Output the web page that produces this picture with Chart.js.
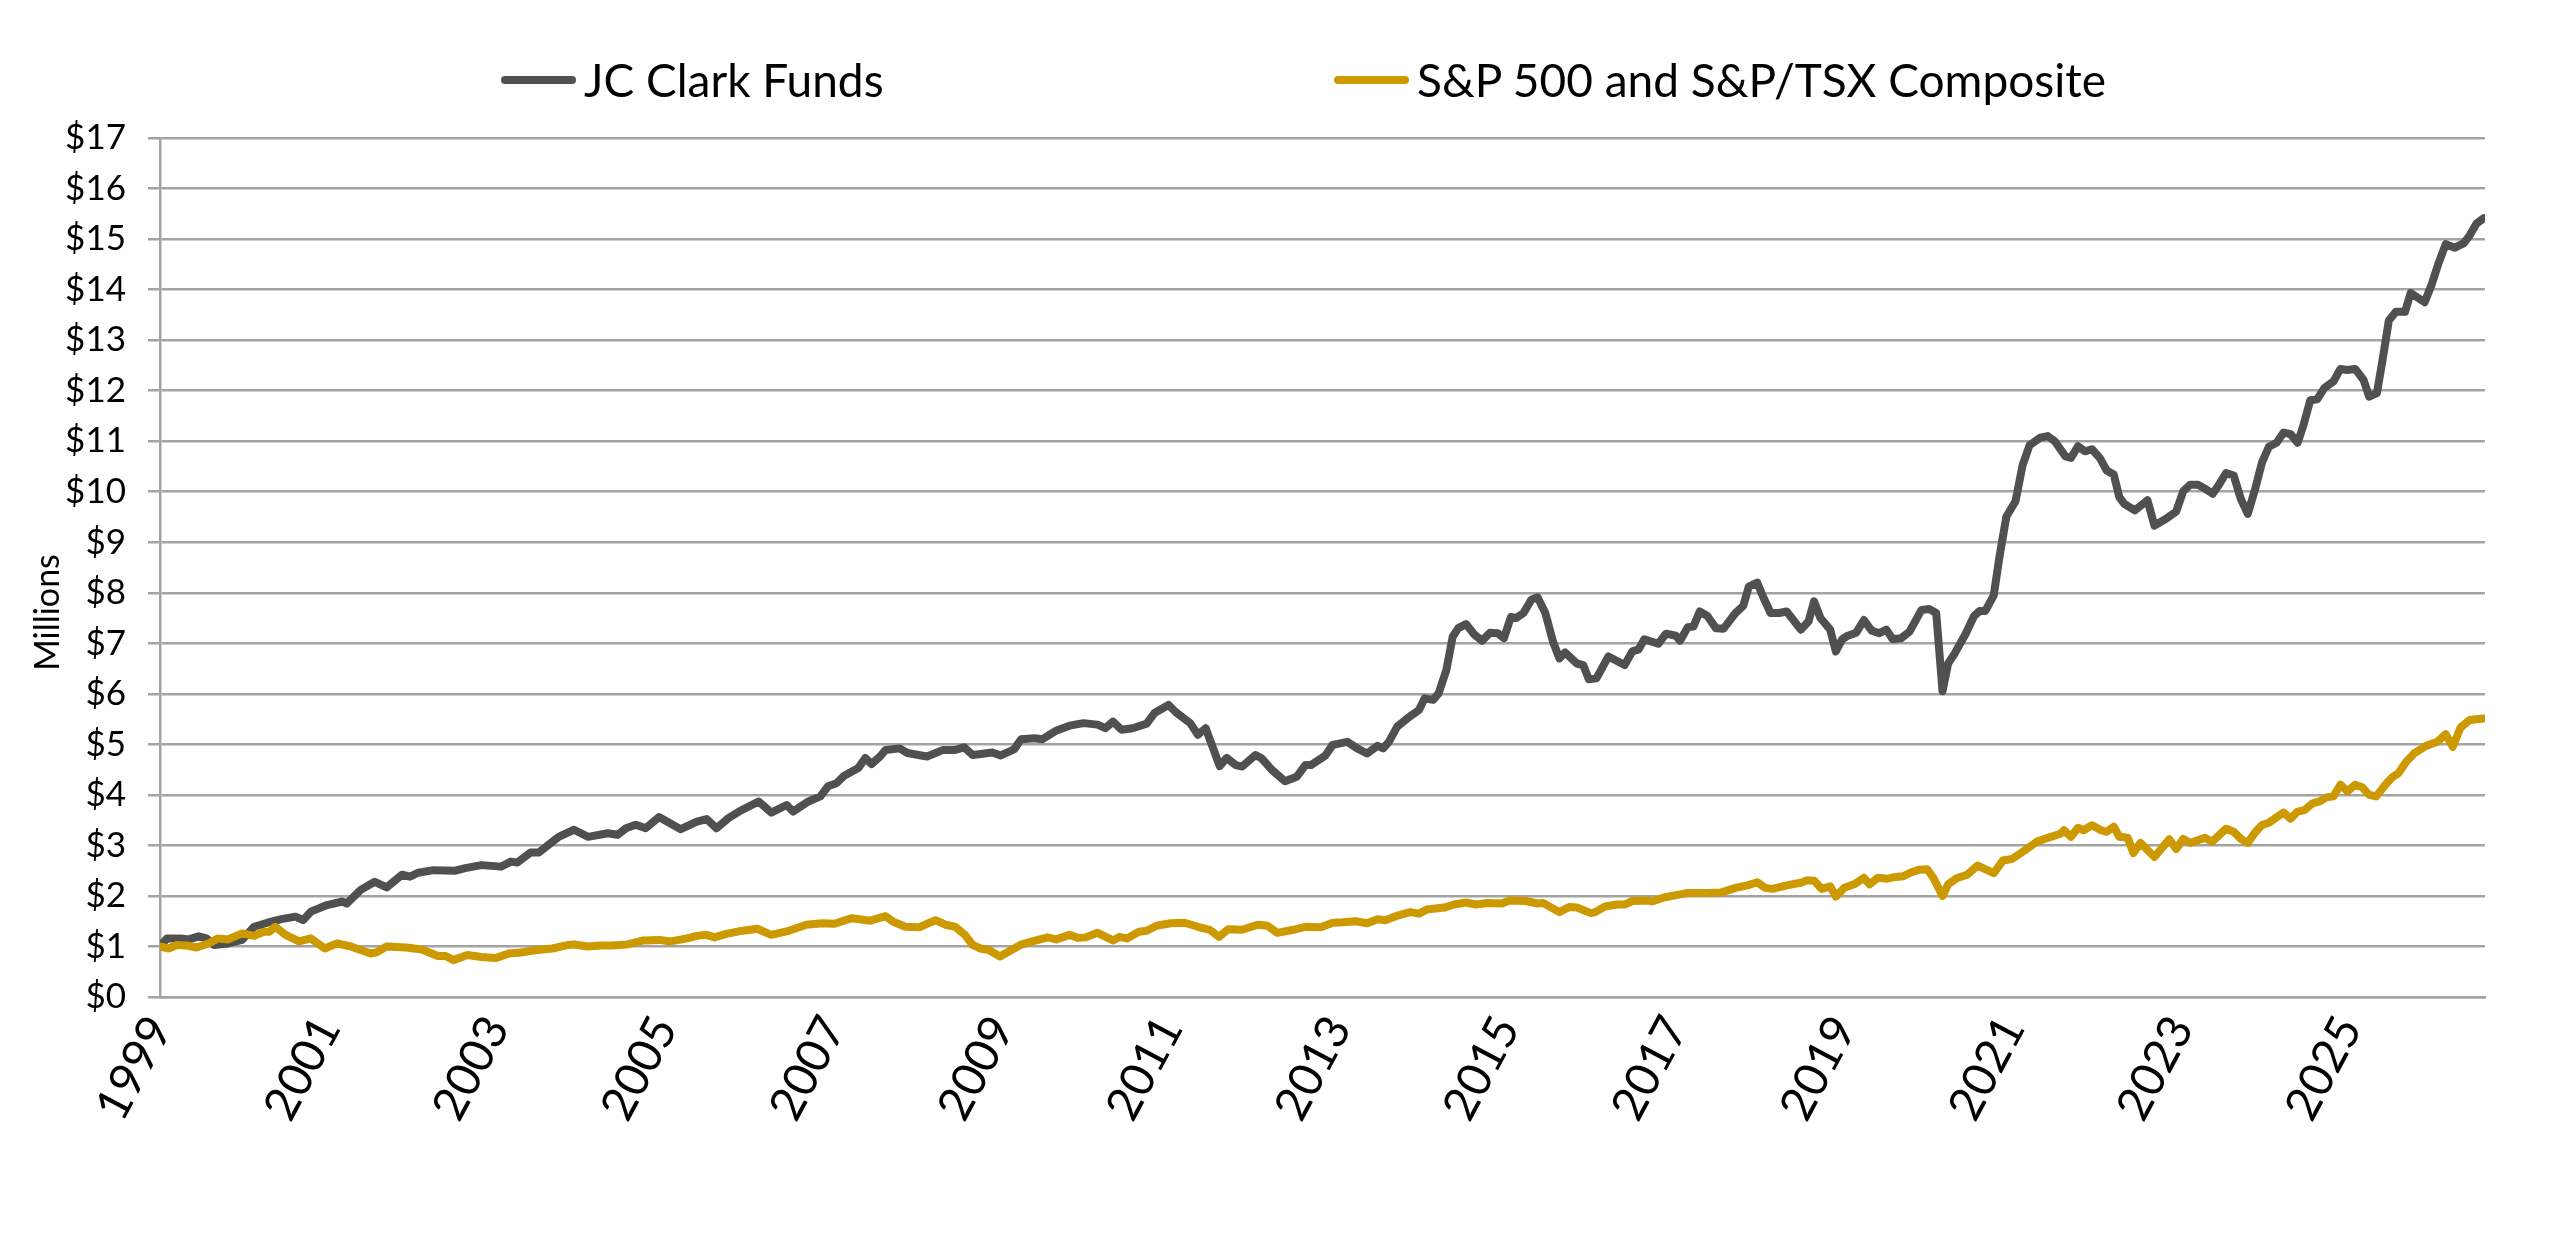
<!DOCTYPE html>
<html>
<head>
<meta charset="utf-8">
<title>JC Clark Funds vs S&amp;P 500 and S&amp;P/TSX Composite</title>
<script src="https://cdn.jsdelivr.net/npm/chart.js@4.4.1/dist/chart.umd.min.js"></script>
<style>
  html, body { margin: 0; padding: 0; background: #fff; }
  #wrap { position: relative; width: 2560px; height: 1234px; }
  #legend { position: absolute; top: 0; left: 0; width: 2560px; height: 130px;
            font-family: Lato, sans-serif; font-size: 46px; color: #000; }
  .item { position: absolute; top: 52px; display: flex; align-items: center; white-space: nowrap; line-height: 1.2; }
  .item-0 { left: 501px; }
  .item-1 { left: 1334px; }
  .swatch { width: 75px; height: 8px; border-radius: 4px; margin-right: 8px; }
</style>
</head>
<body>
<div id="wrap">
  <canvas id="chart" width="2560" height="1234"></canvas>
  <div id="legend"></div>
</div>
<script>
// Tick labels every 24 months starting Jan 1999
const tickLabels = ['1999', '2001', '2003', '2005', '2007', '2009', '2011', '2013',
                    '2015', '2017', '2019', '2021', '2023', '2025'];

// JC Clark Funds, value in $ millions, read at month positions (months after Jan 1999)
const fundMonths = [0, 1.0, 2.9, 4.1, 5.5, 6.6, 7.7, 9.7, 11.7, 13.4, 15.3, 17.3, 19.3, 20.4, 21.5, 23.8,
  26.0, 26.6, 28.6, 30.6, 32.3, 34.5, 35.6, 36.8, 39.0, 42.1, 43.5, 45.8, 48.6, 50.0, 50.9, 52.8,
  54.0, 56.8, 59.0, 61.0, 63.8, 65.2, 66.4, 67.8, 69.2, 71.1, 74.2, 76.5, 77.9, 79.3, 81.0, 82.5,
  85.3, 87.1, 89.3, 90.2, 92.4, 94.1, 95.2, 96.4, 97.5, 99.5, 100.5, 101.4, 102.6, 103.4, 105.4, 106.5,
  109.3, 111.6, 113.3, 114.6, 115.8, 118.6, 119.8, 121.7, 122.7, 124.6, 125.7, 127.7, 129.6, 131.6, 133.6, 134.7,
  135.8, 137.0, 138.6, 140.6, 141.7, 143.7, 144.8, 146.8, 147.9, 149.0, 151.0, 152.0, 153.3, 154.2, 156.1, 157.0,
  158.4, 160.3, 162.0, 163.2, 164.0, 166.0, 167.1, 169.2, 170.6, 172.0, 173.5, 174.3, 175.1, 176.3, 177.7, 179.4,
  180.2, 181.4, 182.2, 183.3, 184.2, 185.0, 186.1, 187.3, 188.4, 189.5, 190.6, 191.5, 192.5, 193.2, 194.3, 195.4,
  196.3, 197.4, 198.5, 199.4, 200.2, 201.9, 202.8, 203.6, 204.7, 206.4, 208.7, 209.8, 210.7, 211.5, 213.5, 214.6,
  216.0, 216.6, 217.7, 218.5, 219.4, 220.5, 221.7, 222.8, 224.5, 225.6, 226.4, 227.6, 228.4, 229.5, 230.7, 231.8,
  233.8, 234.9, 235.7, 236.6, 238.0, 238.8, 239.7, 240.5, 241.7, 242.8, 243.9, 245.0, 246.0, 246.9, 248.1, 249.3,
  251.0, 252.1, 253.1, 254.0, 254.8, 255.7, 257.3, 258.5, 259.3, 260.1, 261.3, 262.1, 263.1, 264.4, 265.4, 266.4,
  267.9, 269.0, 270.0, 271.5, 272.3, 273.3, 274.3, 275.3, 276.4, 277.4, 278.4, 279.2, 279.9, 281.4, 283.2, 284.2,
  285.8, 287.3, 288.3, 289.3, 290.4, 291.4, 292.5, 293.4, 294.4, 295.5, 296.5, 297.5, 298.5, 299.5, 300.5, 301.6,
  302.6, 303.6, 304.6, 305.4, 306.4, 307.4, 308.4, 309.7, 310.7, 311.7, 312.8, 314.0, 314.8, 315.9, 316.8, 317.6,
  318.6, 319.9, 320.7, 322.7, 323.7, 324.7, 325.7, 327.0, 328.3, 329.1, 330.1, 331.1];
const fundValues = [1.00, 1.16, 1.16, 1.14, 1.20, 1.16, 1.03, 1.06, 1.13, 1.39, 1.47, 1.54, 1.59, 1.52, 1.69, 1.82,
  1.89, 1.85, 2.12, 2.28, 2.17, 2.42, 2.38, 2.46, 2.51, 2.50, 2.55, 2.61, 2.58, 2.68, 2.66, 2.86,
  2.86, 3.17, 3.31, 3.17, 3.24, 3.21, 3.34, 3.41, 3.34, 3.56, 3.32, 3.47, 3.52, 3.34, 3.54, 3.67,
  3.87, 3.65, 3.80, 3.67, 3.87, 3.97, 4.17, 4.23, 4.38, 4.53, 4.73, 4.61, 4.76, 4.89, 4.92, 4.83,
  4.76, 4.89, 4.89, 4.94, 4.79, 4.84, 4.78, 4.90, 5.10, 5.12, 5.10, 5.27, 5.37, 5.42, 5.39, 5.32,
  5.45, 5.29, 5.32, 5.41, 5.62, 5.78, 5.63, 5.42, 5.19, 5.32, 4.57, 4.73, 4.59, 4.56, 4.79, 4.72,
  4.50, 4.27, 4.36, 4.59, 4.59, 4.77, 4.99, 5.05, 4.92, 4.82, 4.97, 4.92, 5.05, 5.35, 5.51, 5.68,
  5.91, 5.88, 6.01, 6.47, 7.13, 7.30, 7.38, 7.17, 7.05, 7.21, 7.20, 7.10, 7.52, 7.50, 7.60, 7.86,
  7.91, 7.60, 7.03, 6.70, 6.82, 6.60, 6.57, 6.29, 6.31, 6.74, 6.57, 6.84, 6.88, 7.08, 6.99, 7.19,
  7.15, 7.05, 7.32, 7.33, 7.63, 7.54, 7.30, 7.29, 7.60, 7.74, 8.12, 8.20, 7.93, 7.60, 7.60, 7.63,
  7.27, 7.43, 7.83, 7.50, 7.27, 6.84, 7.08, 7.15, 7.21, 7.46, 7.25, 7.20, 7.27, 7.08, 7.10, 7.23,
  7.66, 7.68, 7.60, 6.05, 6.60, 6.79, 7.19, 7.54, 7.64, 7.64, 7.95, 8.70, 9.51, 9.81, 10.52, 10.92,
  11.07, 11.10, 11.00, 10.70, 10.67, 10.90, 10.80, 10.84, 10.67, 10.42, 10.34, 9.89, 9.76, 9.63, 9.83, 9.33,
  9.46, 9.61, 10.01, 10.14, 10.14, 10.06, 9.96, 10.14, 10.37, 10.32, 9.86, 9.56, 10.03, 10.57, 10.89, 10.97,
  11.17, 11.14, 10.97, 11.30, 11.81, 11.83, 12.05, 12.18, 12.43, 12.41, 12.43, 12.21, 11.88, 11.95, 12.69, 13.39,
  13.56, 13.56, 13.93, 13.75, 14.10, 14.53, 14.90, 14.83, 14.92, 15.07, 15.31, 15.41];

// S&P 500 and S&P/TSX Composite, value in $ millions
const indexMonths = [0, 1.2, 2.4, 3.8, 5.2, 6.9, 8.3, 9.7, 11.7, 13.4, 14.8, 15.6, 16.4, 17.9, 19.8, 21.5,
  23.5, 25.2, 27.2, 30.0, 30.8, 32.3, 35.1, 37.3, 39.6, 40.7, 41.8, 43.8, 45.8, 47.8, 49.7, 51.4,
  53.7, 55.9, 58.2, 59.0, 61.0, 62.7, 64.4, 66.6, 68.9, 71.1, 72.8, 75.1, 76.5, 77.9, 79.0, 80.7,
  82.5, 85.1, 87.1, 89.6, 92.1, 94.4, 96.1, 98.6, 101.2, 103.4, 104.5, 106.2, 108.2, 110.5, 111.9, 113.3,
  114.7, 115.8, 116.9, 118.1, 119.7, 121.2, 122.6, 124.3, 126.5, 127.7, 129.6, 130.8, 131.9, 133.6, 135.8, 136.7,
  137.8, 139.5, 140.6, 142.0, 144.0, 146.0, 147.9, 149.6, 150.9, 152.2, 154.2, 156.4, 157.8, 159.2, 161.5, 163.2,
  165.4, 167.1, 168.6, 170.4, 172.0, 173.5, 174.6, 176.3, 178.2, 179.4, 180.5, 183.0, 184.4, 186.1, 187.5, 189.2,
  191.2, 192.3, 194.6, 196.3, 197.1, 199.4, 200.8, 201.9, 203.9, 204.5, 205.9, 207.6, 208.7, 209.8, 212.1, 212.6,
  214.3, 216.6, 217.7, 220.5, 222.5, 224.5, 226.2, 227.6, 228.7, 229.8, 231.8, 233.8, 234.6, 235.7, 236.8, 238.0,
  238.8, 240.0, 241.4, 242.8, 243.6, 244.8, 246.2, 247.0, 248.4, 249.6, 250.7, 251.8, 252.7, 254.0, 254.8, 256.0,
  257.5, 259.0, 261.3, 262.6, 263.9, 265.7, 267.4, 269.0, 270.8, 271.3, 272.3, 273.3, 274.1, 275.3, 276.6, 277.4,
  278.4, 279.2, 280.4, 281.2, 282.2, 284.2, 286.3, 287.3, 288.3, 289.3, 291.4, 292.4, 294.4, 295.5, 296.5, 297.5,
  298.5, 299.5, 300.5, 302.6, 303.6, 304.6, 305.6, 306.7, 307.7, 308.7, 309.7, 310.7, 311.7, 312.8, 313.8, 314.8,
  315.8, 317.1, 318.1, 318.9, 320.1, 321.2, 322.9, 324.5, 325.7, 326.7, 327.8, 329.1, 331.1];
const indexValues = [1.00, 0.96, 1.03, 1.02, 0.98, 1.06, 1.16, 1.14, 1.26, 1.21, 1.29, 1.29, 1.39, 1.23, 1.10, 1.16,
  0.96, 1.06, 1.00, 0.86, 0.88, 1.00, 0.98, 0.94, 0.81, 0.81, 0.73, 0.83, 0.79, 0.77, 0.86, 0.88,
  0.93, 0.96, 1.03, 1.04, 1.00, 1.02, 1.02, 1.04, 1.12, 1.13, 1.10, 1.16, 1.21, 1.23, 1.18, 1.25,
  1.30, 1.35, 1.23, 1.31, 1.43, 1.46, 1.45, 1.56, 1.51, 1.60, 1.49, 1.39, 1.38, 1.52, 1.43, 1.39,
  1.23, 1.03, 0.96, 0.93, 0.80, 0.92, 1.03, 1.10, 1.18, 1.14, 1.23, 1.17, 1.18, 1.27, 1.12, 1.19,
  1.16, 1.29, 1.31, 1.41, 1.46, 1.47, 1.39, 1.33, 1.19, 1.34, 1.33, 1.43, 1.41, 1.27, 1.33, 1.39,
  1.38, 1.47, 1.48, 1.50, 1.46, 1.54, 1.52, 1.61, 1.68, 1.65, 1.73, 1.77, 1.83, 1.87, 1.83, 1.86,
  1.85, 1.91, 1.90, 1.85, 1.86, 1.68, 1.78, 1.77, 1.66, 1.68, 1.79, 1.83, 1.83, 1.90, 1.91, 1.89,
  1.97, 2.03, 2.06, 2.06, 2.07, 2.16, 2.21, 2.27, 2.16, 2.14, 2.21, 2.26, 2.31, 2.30, 2.14, 2.19,
  1.99, 2.16, 2.23, 2.36, 2.23, 2.36, 2.34, 2.37, 2.39, 2.47, 2.52, 2.53, 2.36, 2.00, 2.23, 2.35,
  2.42, 2.60, 2.45, 2.70, 2.73, 2.90, 3.07, 3.15, 3.23, 3.30, 3.17, 3.35, 3.30, 3.40, 3.30, 3.27,
  3.37, 3.17, 3.15, 2.85, 3.05, 2.77, 3.12, 2.93, 3.13, 3.05, 3.15, 3.07, 3.33, 3.27, 3.13, 3.05,
  3.25, 3.40, 3.45, 3.65, 3.53, 3.67, 3.70, 3.83, 3.87, 3.95, 3.97, 4.20, 4.07, 4.20, 4.15, 4.00,
  3.97, 4.20, 4.35, 4.42, 4.66, 4.82, 4.97, 5.05, 5.20, 4.95, 5.33, 5.48, 5.51];

const seriesNames = ['JC Clark Funds', 'S&P 500 and S&P/TSX Composite'];
const seriesColors = ['#505050', '#CC9900'];

const gridColor = '#a3a3a3';

function toPoints(xs, ys) {
  return xs.map(function(x, i) { return { x: x, y: ys[i] }; });
}

// Draws the rotated "Millions" axis title a bit below the axis middle, as in the original
const axisTitle = {
  id: 'axisTitle',
  afterDraw: function(chart) {
    const ctx = chart.ctx;
    const area = chart.chartArea;
    ctx.save();
    ctx.font = '34px Lato';
    ctx.fillStyle = '#000';
    ctx.textAlign = 'center';
    ctx.textBaseline = 'middle';
    ctx.translate(48, (area.top + area.bottom) / 2 + 45);
    ctx.rotate(-Math.PI / 2);
    ctx.fillText('Millions', 0, 0);
    ctx.restore();
  }
};

const chart = new Chart(document.getElementById('chart'), {
  type: 'line',
  data: {
    datasets: [
      {
        label: seriesNames[0],
        data: toPoints(fundMonths, fundValues),
        borderColor: seriesColors[0],
        backgroundColor: seriesColors[0],
        borderWidth: 8,
        order: 1
      },
      {
        label: seriesNames[1],
        data: toPoints(indexMonths, indexValues),
        borderColor: seriesColors[1],
        backgroundColor: seriesColors[1],
        borderWidth: 8,
        order: 0
      }
    ]
  },
  options: {
    responsive: false,
    devicePixelRatio: 1,
    animation: false,
    layout: { padding: { left: 30, right: 75, top: 138, bottom: 0 } },
    elements: {
      point: { radius: 0 },
      line: { tension: 0, borderJoinStyle: 'round', borderCapStyle: 'round' }
    },
    plugins: {
      legend: { display: false },
      tooltip: { enabled: false }
    },
    scales: {
      x: {
        type: 'linear',
        min: 0,
        max: 331.3,
        afterFit: function(scale) { scale.height = 237; },
        grid: { display: false, drawTicks: false },
        border: { display: true, color: gridColor, width: 2.5 },
        ticks: {
          stepSize: 24,
          includeBounds: false,
          autoSkip: false,
          minRotation: 62,
          maxRotation: 62,
          padding: 10,
          color: '#000',
          font: { family: 'Lato', size: 47 },
          callback: function(v) { return tickLabels[v / 24] !== undefined ? tickLabels[v / 24] : ''; }
        }
      },
      y: {
        min: 0,
        max: 17,
        afterFit: function(scale) { scale.width = 130; },
        grid: { color: gridColor, lineWidth: 2.5, tickLength: 12 },
        border: { color: gridColor, width: 2.5 },
        ticks: {
          stepSize: 1,
          padding: 22,
          color: '#000',
          font: { family: 'Lato', size: 35 },
          callback: function(v) { return '$' + v; }
        }
      }
    }
  },
  plugins: [axisTitle]
});

// Legend built from the datasets
const legendEl = document.getElementById('legend');
chart.data.datasets.forEach(function(ds, i) {
  const item = document.createElement('div');
  item.className = 'item item-' + i;
  const sw = document.createElement('span');
  sw.className = 'swatch';
  sw.style.background = ds.borderColor;
  const txt = document.createElement('span');
  txt.textContent = ds.label;
  item.appendChild(sw);
  item.appendChild(txt);
  legendEl.appendChild(item);
});
</script>
</body>
</html>
